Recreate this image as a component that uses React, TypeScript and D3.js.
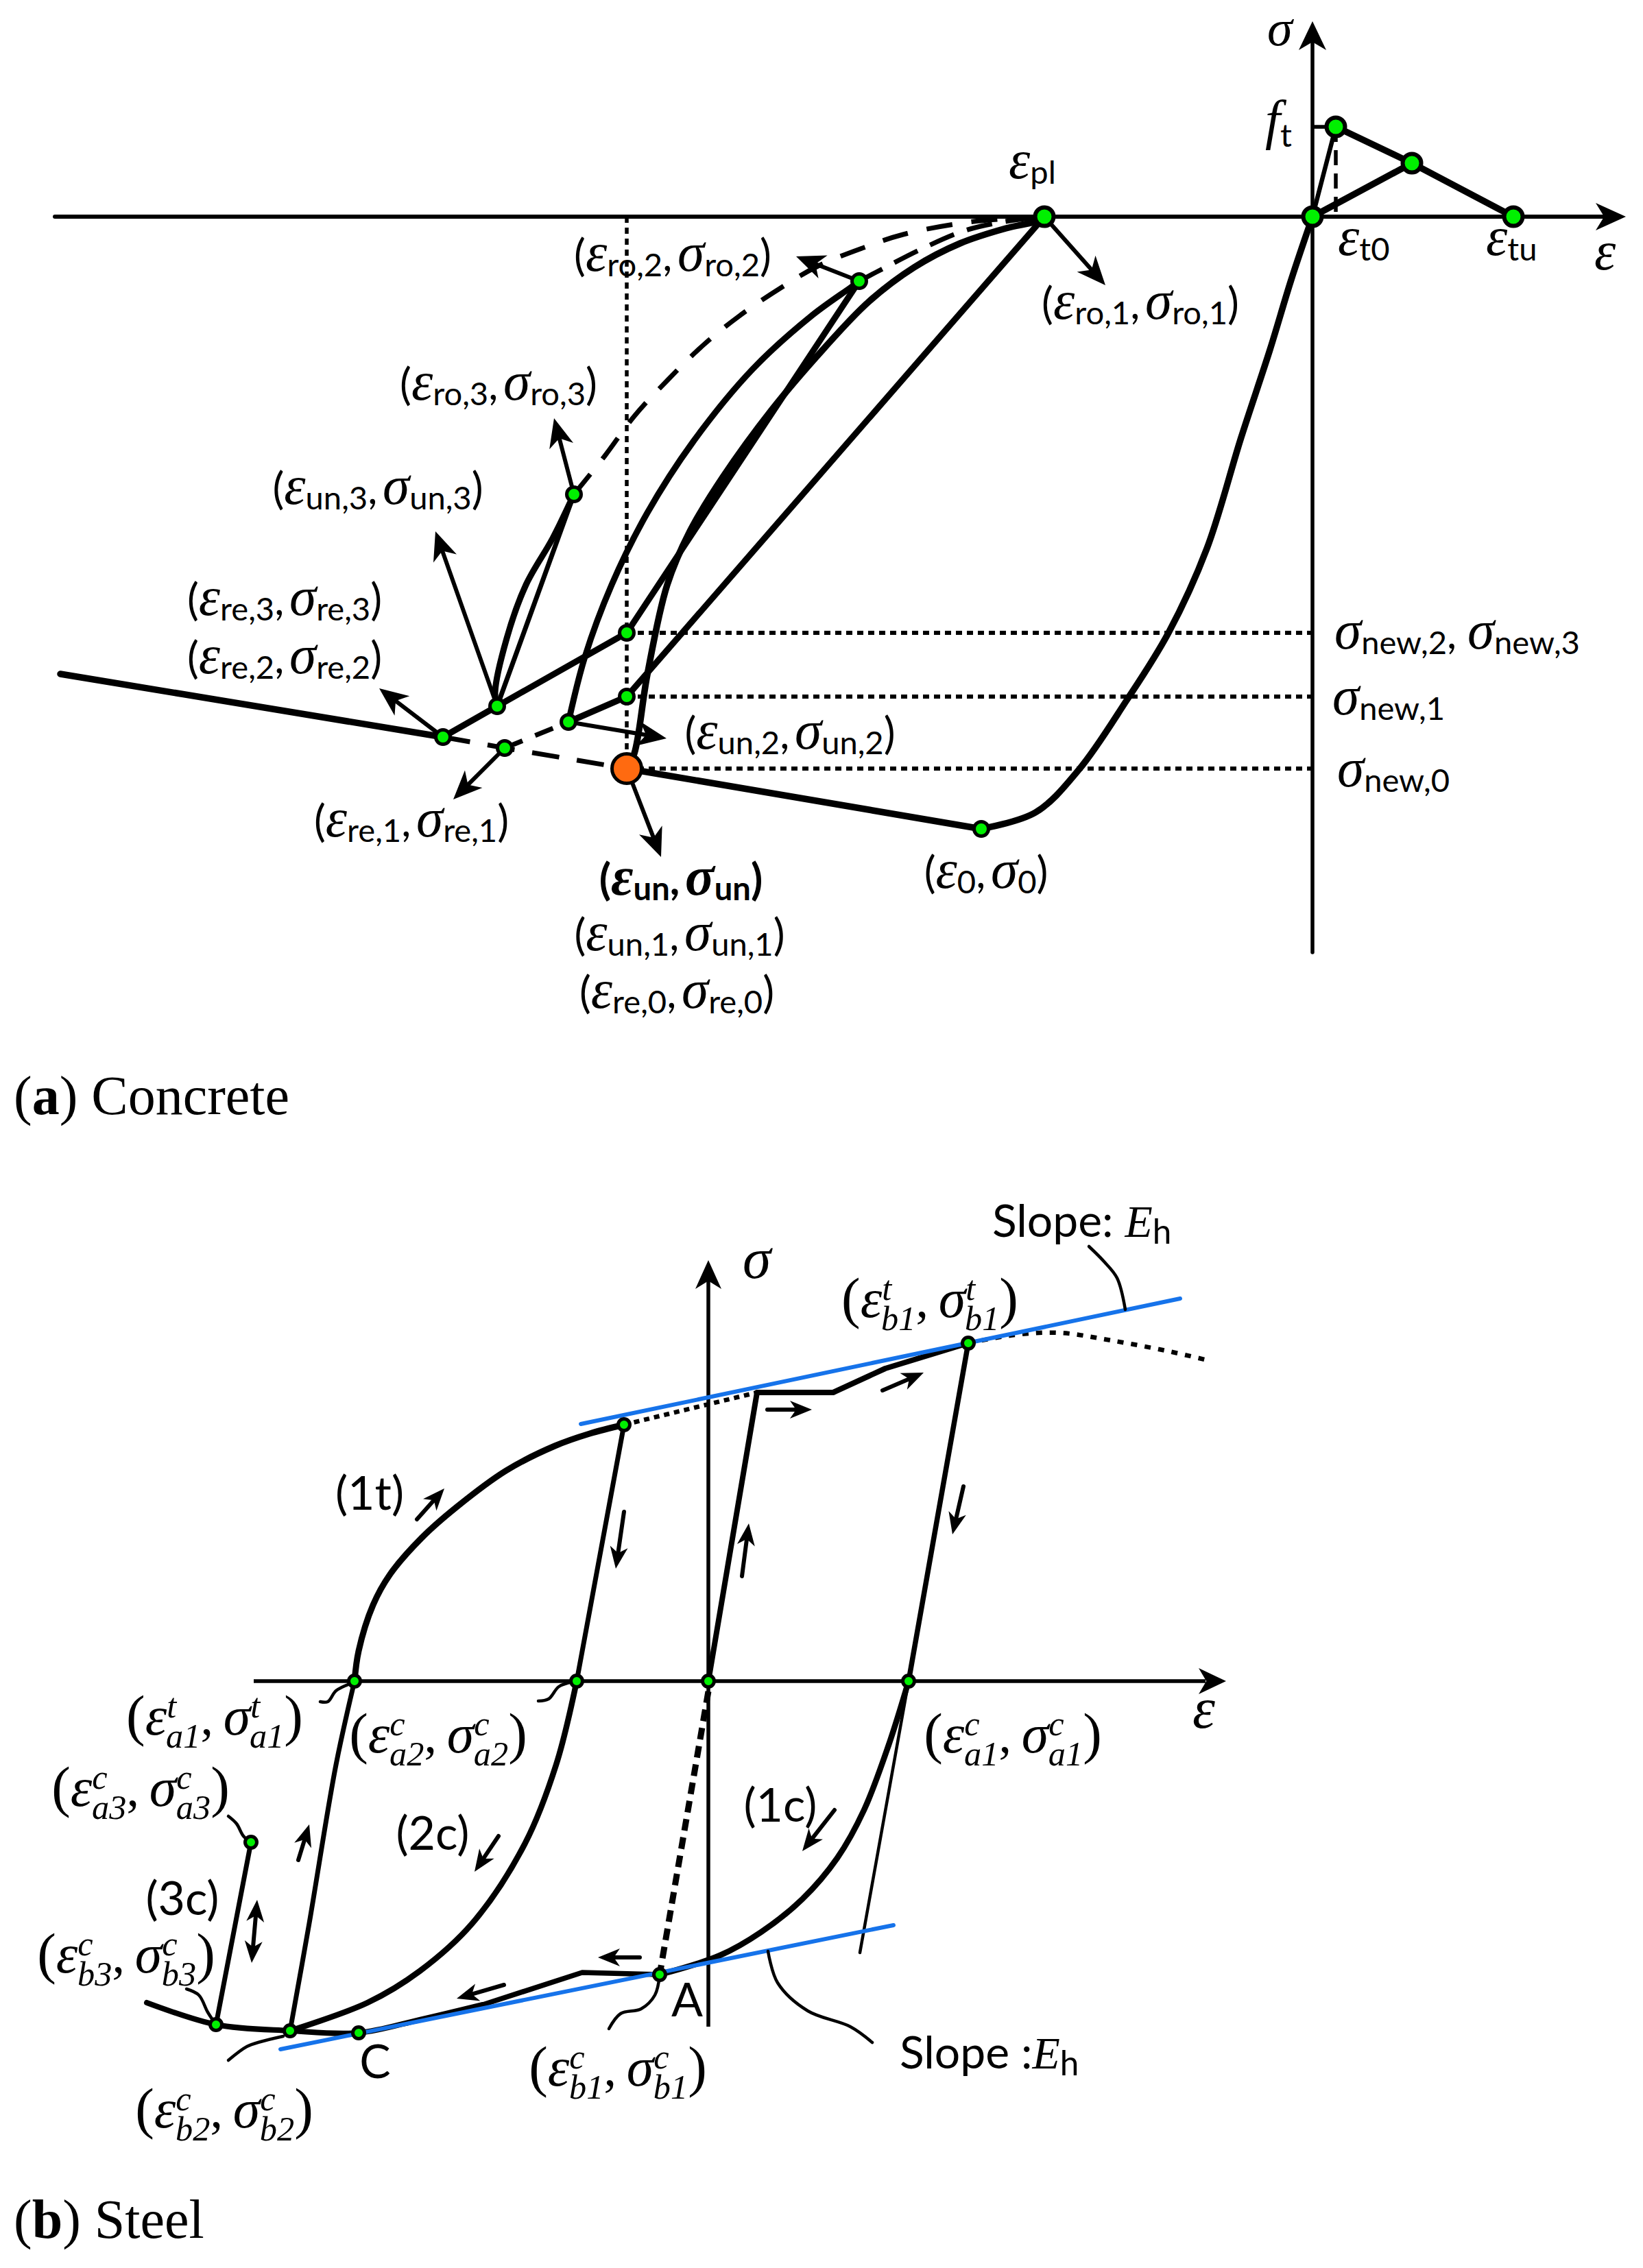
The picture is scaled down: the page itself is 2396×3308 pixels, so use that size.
import React, { useRef, useEffect } from "react";
import * as d3 from "d3";

const W = 2396;
const H = 3308;
const SANS = "Lato, 'Open Sans', 'Liberation Sans', sans-serif";
const SERIF = "'Liberation Serif', 'DejaVu Serif', serif";
const GREEN = "#00f000";
const ORANGE = "#ff6a10";
const BLUE = "#1673ea";

// ---------- (a) concrete : strain / stress in drawing units, compression < 0 ----------
const axisEpsA = [-18.34, 4.57];
const axisSigA = [-10.73, 2.85];
const envelopeSolid = [[-18.26, -6.67], [-12.68, -7.59]];
const envelopeDashed = [[-12.68, -7.59], [-11.78, -7.75], [-10.0, -8.05]];
const envelopeLower = [[-10.0, -8.05], [-4.83, -8.93]];
const envelopeRise = [[-4.83, -8.93], [-4.04, -8.69], [-3.41, -8.07], [-2.72, -7.07], [-2.1, -6.07], [-1.54, -4.84], [-1.04, -3.22], [-0.62, -1.94], [-0.31, -0.92], [0, 0]];
const unload1 = [[-10.0, -8.05], [-9.89, -7.83], [-9.7, -6.68], [-9.41, -5.37], [-9.08, -4.59], [-8.6, -3.8], [-7.88, -2.81], [-7.14, -1.94], [-6.47, -1.24], [-5.81, -0.74], [-5.14, -0.39], [-4.47, -0.17], [-4.04, -0.07], [-3.91, 0]];
const reload1Dashed = [[-11.78, -7.75], [-10.85, -7.37]];
const reload1 = [[-10.85, -7.37], [-10.0, -7.0], [-3.91, 0]];
const unload2 = [[-10.85, -7.37], [-10.61, -6.42], [-10.22, -5.37], [-9.7, -4.32], [-9.03, -3.28], [-8.17, -2.23], [-7.31, -1.45], [-6.73, -1.03], [-6.61, -0.94]];
const reload2 = [[-12.68, -7.59], [-11.89, -7.14], [-10.0, -6.07], [-6.61, -0.94]];
const loop3Curve = [[-11.89, -7.14], [-11.92, -6.94], [-11.75, -6.15], [-11.47, -5.37], [-11.08, -4.69], [-10.77, -4.05]];
const loop3Line = [[-11.89, -7.14], [-10.77, -4.05]];
const rollover3 = [[-10.77, -4.05], [-10.32, -3.49], [-9.89, -2.91], [-9.41, -2.39], [-8.88, -1.87], [-8.36, -1.45], [-7.74, -1.03], [-7.21, -0.72], [-6.54, -0.45], [-5.97, -0.26], [-5.01, -0.08], [-3.91, 0]];
const rollover2 = [[-6.61, -0.94], [-6.21, -0.73], [-5.74, -0.49], [-5.09, -0.21], [-4.54, -0.08], [-3.91, 0]];
const tensionRise = [[0, 0], [0.34, 1.31]];
const tensionSoft = [[0.34, 1.31], [1.45, 0.78], [2.93, 0]];
const tensionBack = [[0, 0], [1.45, 0.78]];
const ftLevel = 1.31;
const epsT0 = 0.34;
const epsUn = -10.0;
const sigmaNew = [-6.07, -7.0, -8.05];
const dotsBigA = [[-3.91, 0], [0, 0], [0.34, 1.31], [1.45, 0.78], [2.93, 0]];
const dotsSmallA = [[-6.61, -0.94], [-10.77, -4.05], [-11.89, -7.14], [-12.68, -7.59], [-11.78, -7.75], [-10.85, -7.37], [-10.0, -7.0], [-10.0, -6.07], [-4.83, -8.93]];
const dotUn = [-10.0, -8.05];
const arrowsA = [
  [[-3.91, 0], [-3.02, -1.0]],
  [[-6.61, -0.94], [-7.53, -0.58]],
  [[-10.77, -4.05], [-11.06, -2.94]],
  [[-11.89, -7.14], [-12.79, -4.59]],
  [[-12.68, -7.59], [-13.61, -6.88]],
  [[-11.78, -7.75], [-12.53, -8.5]],
  [[-10.85, -7.37], [-9.42, -7.61]],
  [[-10.0, -8.05], [-9.5, -9.34]],
];
const labelsA = [
  { e: "ro,2", at: [-9.33, -0.79] },
  { e: "ro,3", at: [-11.87, -2.67] },
  { e: "un,3", at: [-13.63, -4.19] },
  { e: "re,3", at: [-14.99, -5.81] },
  { e: "re,2", at: [-14.99, -6.66] },
  { e: "re,1", at: [-13.14, -9.04] },
  { e: "un", at: [-9.21, -9.89], bold: true },
  { e: "un,1", at: [-9.23, -10.7] },
  { e: "re,0", at: [-9.27, -11.54] },
  { e: "un,2", at: [-7.62, -7.76] },
  { e: "0", at: [-4.76, -9.79] },
  { e: "ro,1", at: [-2.51, -1.49] },
];
const newLabels = [
  { subs: ["new,2", "new,3"], at: [0.32, -6.3] },
  { subs: ["new,1"], at: [0.29, -7.26] },
  { subs: ["new,0"], at: [0.36, -8.31] },
];

// ---------- (b) steel ----------
const axisEpsB = [-6.63, 7.55];
const axisSigB = [-5.04, 6.14];
const branch1t = [[-5.16, 0], [-5.1, 0.44], [-4.89, 1.11], [-4.64, 1.56], [-4.18, 2.09], [-3.67, 2.54], [-2.95, 3.07], [-2.24, 3.43], [-1.73, 3.61], [-1.23, 3.74]];
const reverseA1 = [[-5.16, 0], [-5.43, -1.22], [-5.82, -3.53], [-6.1, -5.1]];
const unloadT1 = [[-1.23, 3.74], [-1.92, 0]];
const branch2c = [[-1.92, 0], [-2.22, -1.22], [-2.68, -2.38], [-3.44, -3.53], [-4.21, -4.23], [-4.97, -4.69], [-6.1, -5.1]];
const reloadT = [[0, 0], [0.71, 4.21], [1.82, 4.21], [2.58, 4.56], [3.79, 4.93]];
const unloadT2 = [[3.79, 4.93], [2.92, 0]];
const unloadExt = [[2.92, 0], [2.21, -3.96]];
const branch1c = [[2.92, 0], [2.63, -0.93], [2.27, -1.88], [1.88, -2.58], [1.37, -3.18], [0.77, -3.66], [0.17, -4.0], [-0.71, -4.28]];
const lowerFlat = [[-0.71, -4.28], [-1.84, -4.25], [-3.29, -4.72]];
const lowerCurve = [[-3.29, -4.72], [-4.21, -4.94], [-5.1, -5.13], [-6.1, -5.1], [-7.18, -5.01], [-8.19, -4.69]];
const branch3c = [[-6.67, -2.35], [-7.18, -5.01]];
const pathOA = [[0, -0.15], [-0.71, -4.28]];
const tangentTop = [[-1.86, 3.75], [6.88, 5.58]];
const tangentBottom = [[-6.24, -5.37], [2.7, -3.56]];
const dottedTop = [[-1.23, 3.74], [0.71, 4.21]];
const dottedEnd = [[3.79, 4.93], [4.47, 5.05], [5.13, 5.08], [5.87, 4.97], [6.67, 4.82], [7.24, 4.69]];
const dotsB = [[-5.16, 0], [-1.92, 0], [0, 0], [2.92, 0], [-1.23, 3.74], [3.79, 4.93], [-6.67, -2.35], [-7.18, -5.01], [-6.1, -5.1], [-5.1, -5.13], [-0.71, -4.28]];
const arrowsB = [
  [[-4.25, 2.36], [-3.85, 2.81]],
  [[-1.23, 2.47], [-1.35, 1.64]],
  [[0.49, 1.53], [0.59, 2.3]],
  [[0.86, 3.96], [1.51, 3.96]],
  [[2.54, 4.24], [3.14, 4.5]],
  [[3.72, 2.84], [3.56, 2.14]],
  [[1.84, -1.88], [1.37, -2.48]],
  [[-3.06, -2.26], [-3.41, -2.78]],
  [[-5.98, -2.61], [-5.82, -2.09]],
  [[-1.0, -4.03], [-1.61, -4.03]],
  [[-2.98, -4.43], [-3.67, -4.63]],
];
const doubleArrowB = [[-6.58, -3.19], [-6.66, -4.11]];
const leadersB = [
  [[-5.66, -0.3], [-5.55, -0.3], [-5.43, -0.14], [-5.23, -0.04]],
  [[-2.48, -0.29], [-2.33, -0.26], [-2.18, -0.08], [-1.98, -0.01]],
  [[-7.0, -1.97], [-6.88, -2.08], [-6.78, -2.26], [-6.67, -2.35]],
  [[-7.61, -4.49], [-7.43, -4.58], [-7.3, -4.83], [-7.18, -5.01]],
  [[-7.0, -5.53], [-6.73, -5.33], [-6.53, -5.26], [-6.2, -5.18]],
  [[-1.45, -5.07], [-1.28, -4.85], [-0.98, -4.78], [-0.78, -4.58], [-0.71, -4.29]],
  [[0.87, -3.94], [1.01, -4.4], [1.45, -4.81], [2.07, -5.04], [2.39, -5.27]],
  [[5.55, 6.34], [5.77, 6.12], [5.96, 5.88], [6.08, 5.42]],
];
const labelsB = [
  { sup: "t", sub: "a1", at: [-7.2, -0.78] },
  { sup: "c", sub: "a2", at: [-3.94, -1.04] },
  { sup: "c", sub: "a1", at: [4.44, -1.04] },
  { sup: "c", sub: "a3", at: [-8.28, -1.82] },
  { sup: "c", sub: "b3", at: [-8.49, -4.25] },
  { sup: "c", sub: "b2", at: [-7.06, -6.51] },
  { sup: "c", sub: "b1", at: [-1.32, -5.9] },
  { sup: "t", sub: "b1", at: [3.23, 5.31] },
];
const tagsB = [
  { t: "(1t)", at: [-4.94, 2.5] },
  { t: "(2c)", at: [-4.02, -2.46] },
  { t: "(1c)", at: [1.05, -2.05] },
  { t: "(3c)", at: [-7.67, -3.41] },
  { t: "A", at: [-0.31, -4.89] },
  { t: "C", at: [-4.86, -5.79] },
];
const slopeLabels = [
  { t: "Slope: ", at: [4.14, 6.48] },
  { t: "Slope :", at: [2.79, -5.65] },
];

const xA = d3.scaleLinear().domain([-10, 0]).range([914, 1914]);
const yA = d3.scaleLinear().domain([0, -10]).range([316, 1316]);
const xB = d3.scaleLinear().domain([0, 5]).range([1033, 1533]);
const yB = d3.scaleLinear().domain([0, -5]).range([2452, 2952]);

type Seg = [string, string, number?];

function rich(g: any, x: number, y: number, segs: Seg[], o: any) {
  const t = g
    .append("text")
    .attr("x", x)
    .attr("y", y)
    .attr("text-anchor", o.anchor ?? "middle")
    .attr("font-family", o.font)
    .attr("font-size", o.size)
    .attr("font-weight", o.bold ? "bold" : "normal")
    .attr("fill", "#000");
  let cur = 0;
  segs.forEach(([k, s, dx]) => {
    let off = 0;
    let size = o.size;
    let fam = o.font;
    let style = "normal";
    if (k === "g") {
      fam = SERIF;
      size = o.size * (o.greek ?? 1.1);
      style = "italic";
    } else if (k === "p") {
      size = o.size * (o.paren ?? 1);
    } else if (k === "sub" || k === "sup") {
      size = o.size * (o.script ?? 0.75);
      fam = o.scriptFont ?? o.font;
      style = o.scriptItalic ? "italic" : "normal";
      off = k === "sub" ? o.size * (o.sub ?? 0.15) : -o.size * (o.sup ?? 0.5);
    }
    const ts = t
      .append("tspan")
      .attr("dy", off - cur)
      .attr("font-size", size)
      .attr("font-family", fam)
      .attr("font-style", style)
      .text(s);
    if (dx) ts.attr("dx", `${dx}em`);
    cur = off;
  });
  return t;
}

function stroke(g: any, d: string | null, o: any) {
  return g
    .append("path")
    .attr("d", d)
    .attr("fill", "none")
    .attr("stroke", o.color ?? "#000")
    .attr("stroke-width", o.w)
    .attr("stroke-dasharray", o.dash ?? null)
    .attr("stroke-linecap", o.cap ?? "round")
    .attr("stroke-linejoin", "round");
}

function head(g: any, x1: number, y1: number, x2: number, y2: number, len: number, hw: number) {
  const a = Math.atan2(y2 - y1, x2 - x1);
  const c = Math.cos(a);
  const s = Math.sin(a);
  const bx = x2 - len * c;
  const by = y2 - len * s;
  const nx = x2 - len * 0.72 * c;
  const ny = y2 - len * 0.72 * s;
  g.append("path")
    .attr("d", `M${x2},${y2}L${bx - hw * s},${by + hw * c}L${nx},${ny}L${bx + hw * s},${by - hw * c}Z`)
    .attr("fill", "#000");
  return [nx, ny];
}

function arrow(g: any, x1: number, y1: number, x2: number, y2: number, len: number, hw: number, w: number, both = false) {
  const [nx, ny] = head(g, x1, y1, x2, y2, len, hw);
  let sx = x1;
  let sy = y1;
  if (both) [sx, sy] = head(g, x2, y2, x1, y1, len, hw);
  g.append("line")
    .attr("x1", sx)
    .attr("y1", sy)
    .attr("x2", nx)
    .attr("y2", ny)
    .attr("stroke", "#000")
    .attr("stroke-width", w)
    .attr("stroke-linecap", "round");
}

function drawConcrete(g: any) {
  const line = d3.line<number[]>().x((d) => xA(d[0])).y((d) => yA(d[1]));
  const smooth = d3
    .line<number[]>()
    .x((d) => xA(d[0]))
    .y((d) => yA(d[1]))
    .curve(d3.curveCatmullRom.alpha(0.5));

  // dotted guides at the new stress levels
  sigmaNew.forEach((s) =>
    stroke(g, line([[epsUn, s], [0, s]]), { w: 6, dash: "9 7", cap: "butt" })
  );
  stroke(g, line([[epsUn, 0], [epsUn, sigmaNew[2]]]), { w: 5.5, dash: "9 7", cap: "butt" });

  // axes
  stroke(g, line([[axisEpsA[0], 0], [axisEpsA[1] - 0.3, 0]]), { w: 6 });
  head(g, xA(0), yA(0), xA(axisEpsA[1]), yA(0), 44, 20);
  stroke(g, line([[0, axisSigA[0]], [0, axisSigA[1] - 0.3]]), { w: 5.5 });
  head(g, xA(0), yA(0), xA(0), yA(axisSigA[1]), 42, 20);

  // tension branch
  stroke(g, line([[0, ftLevel], [epsT0, ftLevel]]), { w: 5.5, cap: "butt" });
  stroke(g, line([[epsT0, ftLevel], [epsT0, 0]]), { w: 5.5, dash: "22 12", cap: "butt" });
  stroke(g, line(tensionRise), { w: 6.5 });
  stroke(g, line(tensionSoft), { w: 9.5 });
  stroke(g, line(tensionBack), { w: 9.5 });

  // envelope
  stroke(g, line(envelopeSolid), { w: 9.5 });
  stroke(g, line(envelopeDashed), { w: 7, dash: "40 26", cap: "butt" });
  stroke(g, line(envelopeLower), { w: 9.5 });
  stroke(g, smooth(envelopeRise), { w: 9.5 });

  // cycles
  stroke(g, smooth(rollover3), { w: 7, dash: "38 28", cap: "butt" });
  stroke(g, smooth(rollover2), { w: 7, dash: "38 20", cap: "butt" });
  stroke(g, smooth(unload1), { w: 9.5 });
  stroke(g, line(reload1Dashed), { w: 7, dash: "28 20", cap: "butt" });
  stroke(g, line(reload1), { w: 9 });
  stroke(g, smooth(unload2), { w: 9 });
  stroke(g, line(reload2), { w: 9 });
  stroke(g, smooth(loop3Curve), { w: 9 });
  stroke(g, line(loop3Line), { w: 7 });

  // pointer arrows
  arrowsA.forEach(([p, q]) => arrow(g, xA(p[0]), yA(p[1]), xA(q[0]), yA(q[1]), 42, 18, 6));

  // markers
  g.selectAll(".dotBig")
    .data(dotsBigA)
    .join("circle")
    .attr("cx", (d: number[]) => xA(d[0]))
    .attr("cy", (d: number[]) => yA(d[1]))
    .attr("r", 13.5)
    .attr("fill", GREEN)
    .attr("stroke", "#000")
    .attr("stroke-width", 6);
  g.selectAll(".dotSmall")
    .data(dotsSmallA)
    .join("circle")
    .attr("cx", (d: number[]) => xA(d[0]))
    .attr("cy", (d: number[]) => yA(d[1]))
    .attr("r", 10.5)
    .attr("fill", GREEN)
    .attr("stroke", "#000")
    .attr("stroke-width", 5);
  g.append("circle")
    .attr("cx", xA(dotUn[0]))
    .attr("cy", yA(dotUn[1]))
    .attr("r", 21.5)
    .attr("fill", ORANGE)
    .attr("stroke", "#000")
    .attr("stroke-width", 5);

  // labels
  const opt = { size: 62, font: SANS, greek: 1.28, script: 0.76, sub: 0.13, paren: 1.02 };
  labelsA.forEach((l) => {
    const segs: Seg[] = [["p", "("], ["g", "ε"], ["sub", l.e], ["n", ",\u2009"], ["g", "σ"], ["sub", l.e], ["p", ")"]];
    rich(g, xA(l.at[0]), yA(l.at[1]), segs, { ...opt, bold: l.bold });
  });
  newLabels.forEach((l) => {
    const segs: Seg[] = [];
    l.subs.forEach((s, i) => {
      if (i > 0) segs.push(["n", ",  "]);
      segs.push(["g", "σ"], ["sub", s]);
    });
    rich(g, xA(l.at[0]), yA(l.at[1]), segs, { ...opt, anchor: "start" });
  });
  rich(g, xA(-4.43), yA(0.56), [["g", "ε"], ["sub", "pl"]], { ...opt, anchor: "start" });
  rich(g, xA(0.37), yA(-0.56), [["g", "ε"], ["sub", "t0"]], { ...opt, anchor: "start" });
  rich(g, xA(2.53), yA(-0.56), [["g", "ε"], ["sub", "tu"]], { ...opt, anchor: "start" });
  rich(g, xA(-0.69), yA(1.14), [["g", "f"], ["sub", "t"]], { ...opt, anchor: "start", sub: 0.2 });
  rich(g, xA(-0.66), yA(2.5), [["g", "σ"]], { ...opt, anchor: "start", greek: 1.2 });
  rich(g, xA(4.11), yA(-0.77), [["g", "ε"]], { ...opt, anchor: "start" });
}

function drawSteel(g: any) {
  const line = d3.line<number[]>().x((d) => xB(d[0])).y((d) => yB(d[1]));
  const smooth = d3
    .line<number[]>()
    .x((d) => xB(d[0]))
    .y((d) => yB(d[1]))
    .curve(d3.curveCatmullRom.alpha(0.5));

  // axes
  stroke(g, line([[axisEpsB[0], 0], [axisEpsB[1] - 0.3, 0]]), { w: 5.5, cap: "butt" });
  head(g, xB(0), yB(0), xB(axisEpsB[1]), yB(0), 40, 19);
  stroke(g, line([[0, axisSigB[0]], [0, axisSigB[1] - 0.3]]), { w: 5.5, cap: "butt" });
  head(g, xB(0), yB(0), xB(0), yB(axisSigB[1]), 42, 19);

  // dotted helpers
  stroke(g, line(dottedTop), { w: 6.5, dash: "8 7", cap: "butt" });
  stroke(g, smooth(dottedEnd), { w: 6.5, dash: "9 11", cap: "butt" });
  stroke(g, line(pathOA), { w: 9, dash: "17 10", cap: "butt" });

  // branches
  stroke(g, smooth(branch1t), { w: 9 });
  stroke(g, smooth(reverseA1), { w: 7 });
  stroke(g, line(unloadT1), { w: 7 });
  stroke(g, smooth(branch2c), { w: 8.5 });
  stroke(g, line(reloadT), { w: 8 });
  stroke(g, line(unloadT2), { w: 7.5 });
  stroke(g, line(unloadExt), { w: 4.5 });
  stroke(g, smooth(branch1c), { w: 8.5 });
  stroke(g, line(lowerFlat), { w: 7.5 });
  stroke(g, smooth(lowerCurve), { w: 8 });
  stroke(g, line(branch3c), { w: 7 });

  // hardening slope lines
  stroke(g, line(tangentTop), { w: 6, color: BLUE });
  stroke(g, line(tangentBottom), { w: 6, color: BLUE });

  // leaders
  leadersB.forEach((p) => stroke(g, smooth(p), { w: 4.5 }));

  // direction arrows
  arrowsB.forEach(([p, q]) => arrow(g, xB(p[0]), yB(p[1]), xB(q[0]), yB(q[1]), 32, 13, 6));
  arrow(g, xB(doubleArrowB[0][0]), yB(doubleArrowB[0][1]), xB(doubleArrowB[1][0]), yB(doubleArrowB[1][1]), 32, 13, 6, true);

  // markers
  g.selectAll(".dotB")
    .data(dotsB)
    .join("circle")
    .attr("cx", (d: number[]) => xB(d[0]))
    .attr("cy", (d: number[]) => yB(d[1]))
    .attr("r", 8.5)
    .attr("fill", GREEN)
    .attr("stroke", "#000")
    .attr("stroke-width", 5);

  // labels
  const opt = {
    size: 74,
    font: SERIF,
    greek: 1.08,
    script: 0.68,
    sub: 0.26,
    sup: 0.34,
    paren: 1.12,
    scriptFont: SERIF,
    scriptItalic: true,
  };
  labelsB.forEach((l) => {
    const back = l.sup === "t" ? -0.3 : -0.45;
    const segs: Seg[] = [
      ["p", "("], ["g", "ε"], ["sup", l.sup], ["sub", l.sub, back], ["n", ",\u2009"],
      ["g", "σ"], ["sup", l.sup], ["sub", l.sub, back], ["p", ")"],
    ];
    rich(g, xB(l.at[0]), yB(l.at[1]), segs, opt);
  });
  tagsB.forEach((l) => rich(g, xB(l.at[0]), yB(l.at[1]), [["n", l.t]], { size: 68, font: SANS }));
  slopeLabels.forEach((l) =>
    rich(g, xB(l.at[0]), yB(l.at[1]), [["n", l.t], ["g", "E"], ["sub", "h"]], {
      size: 66, font: SANS, anchor: "start", greek: 1.0, script: 0.75, sub: 0.15,
    })
  );
  rich(g, xB(0.5), yB(5.88), [["g", "σ"]], { size: 76, font: SERIF, anchor: "start" });
  rich(g, xB(7.06), yB(-0.68), [["g", "ε"]], { size: 76, font: SERIF, anchor: "start" });
}

function App() {
  const svgRef = useRef<SVGSVGElement | null>(null);

  useEffect(() => {
    const svg = d3.select(svgRef.current);
    svg.selectAll("*").remove();
    svg.append("rect").attr("width", W).attr("height", H).attr("fill", "#fff");
    drawConcrete(svg.append("g"));
    drawSteel(svg.append("g"));

    // panel captions
    const cap = (y: number, letter: string, word: string) => {
      const t = svg
        .append("text")
        .attr("x", 20)
        .attr("y", y)
        .attr("font-family", SERIF)
        .attr("font-size", 80)
        .attr("fill", "#000");
      t.append("tspan").text("(");
      t.append("tspan").attr("font-weight", "bold").text(letter);
      t.append("tspan").text(") " + word);
    };
    cap(1625, "a", "Concrete");
    cap(3264, "b", "Steel");
  }, []);

  return (
    <>
      <style>{`body{margin:0}`}</style>
      <svg ref={svgRef} width={W} height={H} style={{ display: "block" }} />
    </>
  );
}

export default App;
